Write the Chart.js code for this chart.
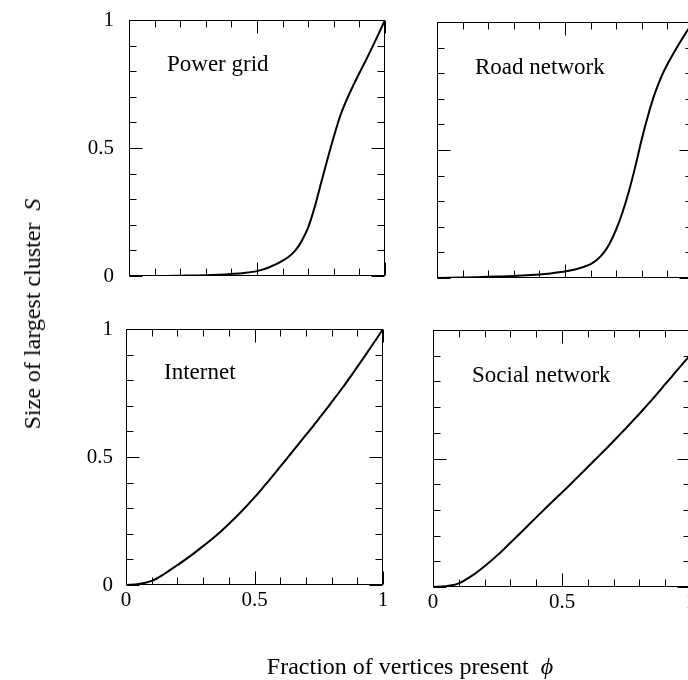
<!DOCTYPE html>
<html><head><meta charset="utf-8">
<script src="https://cdn.jsdelivr.net/npm/chart.js@4.4.1/dist/chart.umd.min.js"></script>
<style>
html,body{margin:0;padding:0;background:#fff;overflow:hidden;}
#fig{position:relative;width:688px;height:680px;overflow:hidden;background:#fff;font-family:"Liberation Serif","Times New Roman",serif;color:#000;}
canvas{position:absolute;}
.lbl{position:absolute;font-size:23px;line-height:23px;white-space:pre;}
.axt{position:absolute;font-size:24px;line-height:24px;white-space:pre;}
</style></head><body>
<div id="fig">
  <canvas id="c1" width="400" height="300" style="left:0;top:0;width:400px;height:300px"></canvas>
  <canvas id="c2" width="300" height="300" style="left:400px;top:0;width:300px;height:300px"></canvas>
  <canvas id="c3" width="400" height="380" style="left:0;top:300px;width:400px;height:380px"></canvas>
  <canvas id="c4" width="300" height="380" style="left:400px;top:300px;width:300px;height:380px"></canvas>
  <div class="lbl" style="left:167px;top:52px">Power grid</div>
  <div class="lbl" style="left:475px;top:55px">Road network</div>
  <div class="lbl" style="left:164px;top:360px">Internet</div>
  <div class="lbl" style="left:472px;top:363px">Social network</div>
  <div class="axt" style="left:32px;top:314px;transform:translate(-50%,-50%) rotate(-90deg)">Size of largest cluster  <i>S</i></div>
  <div class="axt" style="left:410px;top:654px;transform:translateX(-50%)">Fraction of vertices present  <i>ϕ</i></div>
</div>
<script>
// fraction of vertices present (phi)
const xs = [0,0.05,0.1,0.15,0.2,0.25,0.3,0.35,0.4,0.45,0.5,
            0.525,0.55,0.575,0.6,0.625,0.65,0.675,0.7,0.725,0.75,
            0.775,0.8,0.825,0.85,0.875,0.9,0.925,0.95,0.975,1];
// size of largest cluster S
const powerGrid     = [0,0,0,0,0.001,0.002,0.003,0.005,0.008,0.012,0.019,
                       0.026,0.035,0.046,0.06,0.076,0.1,0.138,0.19,0.268,0.362,
                       0.455,0.544,0.625,0.688,0.742,0.793,0.842,0.893,0.946,1.0];
const roadNetwork   = [0,0.001,0.002,0.003,0.005,0.006,0.008,0.011,0.014,0.019,0.025,
                       0.03,0.036,0.044,0.054,0.071,0.097,0.136,0.19,0.258,0.34,
                       0.437,0.543,0.637,0.718,0.783,0.835,0.88,0.922,0.962,1.0];
const internet      = [0,0.004,0.016,0.044,0.078,0.113,0.152,0.192,0.238,0.288,0.342,
                       0.371,0.401,0.431,0.462,0.493,0.524,0.555,0.586,0.617,0.649,
                       0.681,0.714,0.747,0.781,0.816,0.852,0.888,0.925,0.962,1.0];
const socialNetwork = [0,0.003,0.014,0.043,0.081,0.124,0.172,0.221,0.271,0.32,0.368,
                       0.392,0.417,0.442,0.467,0.492,0.517,0.542,0.568,0.594,0.62,
                       0.647,0.674,0.702,0.73,0.759,0.789,0.818,0.848,0.877,0.906];
// ticks
const tickMarks  = [0,0.1,0.2,0.3,0.4,0.5,0.6,0.7,0.8,0.9,1];
const majorTicks = [0,0.5,1];
const tickLabels = ['0','0.5','1'];

const FONT = {family:'"Liberation Serif","Times New Roman",serif', size:21};

function labelFor(v){
  const i = majorTicks.findIndex(m => Math.abs(m - v) < 1e-9);
  return i >= 0 ? tickLabels[i] : '';
}
function isMajor(v){ return majorTicks.some(m => Math.abs(m - v) < 1e-9); }
function zeroPad(s){ s.paddingTop = 0; s.paddingBottom = 0; s.paddingLeft = 0; s.paddingRight = 0; }

const framePlugin = {
  id: 'frameTicks',
  afterDraw(chart){
    const {ctx, chartArea:a, scales} = chart;
    const x = scales.x, y = scales.y;
    ctx.save();
    ctx.strokeStyle = '#000';
    ctx.lineWidth = 1;
    const L = Math.round(a.left) + 0.5, R = Math.round(a.right) - 0.5;
    const T = Math.round(a.top) + 0.5, B = Math.round(a.bottom) - 0.5;
    ctx.strokeRect(L, T, R - L, B - T);
    ctx.beginPath();
    tickMarks.forEach(v => {
      const len = isMajor(v) ? 13 : 7;
      const px = Math.round(x.getPixelForValue(v)) + 0.5;
      ctx.moveTo(px, B); ctx.lineTo(px, B - len);
      ctx.moveTo(px, T); ctx.lineTo(px, T + len);
      const py = Math.round(y.getPixelForValue(v)) + 0.5;
      ctx.moveTo(L, py); ctx.lineTo(L + len, py);
      ctx.moveTo(R, py); ctx.lineTo(R - len, py);
    });
    ctx.stroke();
    ctx.restore();
  }
};

function makeChart(id, values, o){
  return new Chart(document.getElementById(id), {
    type: 'line',
    data: {
      datasets: [{
        data: xs.map((v, i) => ({x: v, y: values[i]})),
        borderColor: '#000',
        borderWidth: 2,
        pointRadius: 0,
        fill: false,
        cubicInterpolationMode: 'monotone'
      }]
    },
    options: {
      responsive: false,
      animation: false,
      events: [],
      layout: {padding: o.padding},
      plugins: {legend: {display: false}, tooltip: {enabled: false}},
      scales: {
        x: {
          type: 'linear', min: 0, max: 1,
          display: o.showX,
          grid: {display: false, drawTicks: false},
          border: {display: false},
          afterBuildTicks: s => { s.ticks = majorTicks.map(v => ({value: v})); },
          afterFit: s => { zeroPad(s); if (o.xHeight != null) s.height = o.xHeight; },
          ticks: {padding: 3, autoSkip: false, maxRotation: 0, minRotation: 0, color: '#000', font: FONT, callback: v => labelFor(v)}
        },
        y: {
          type: 'linear', min: 0, max: 1,
          display: o.showY,
          grid: {display: false, drawTicks: false},
          border: {display: false},
          afterBuildTicks: s => { s.ticks = majorTicks.map(v => ({value: v})); },
          afterFit: s => { zeroPad(s); if (o.yWidth != null) s.width = o.yWidth; },
          ticks: {padding: o.yPad || 14, autoSkip: false, color: '#000', font: FONT, callback: v => labelFor(v)}
        }
      }
    },
    plugins: [framePlugin]
  });
}

makeChart('c1', powerGrid,     {showX:false, showY:true,  yWidth:129, yPad:15, padding:{left:0, right:15, top:20, bottom:24}});
makeChart('c2', roadNetwork,   {showX:false, showY:false, padding:{left:37, right:7, top:22, bottom:22}});
makeChart('c3', internet,      {showX:true,  showY:true,  yWidth:126, yPad:13, xHeight:95, padding:{left:0, right:17, top:29, bottom:0}});
makeChart('c4', socialNetwork, {showX:true,  showY:false, xHeight:93, padding:{left:33, right:9, top:30, bottom:0}});
</script>
</body></html>
